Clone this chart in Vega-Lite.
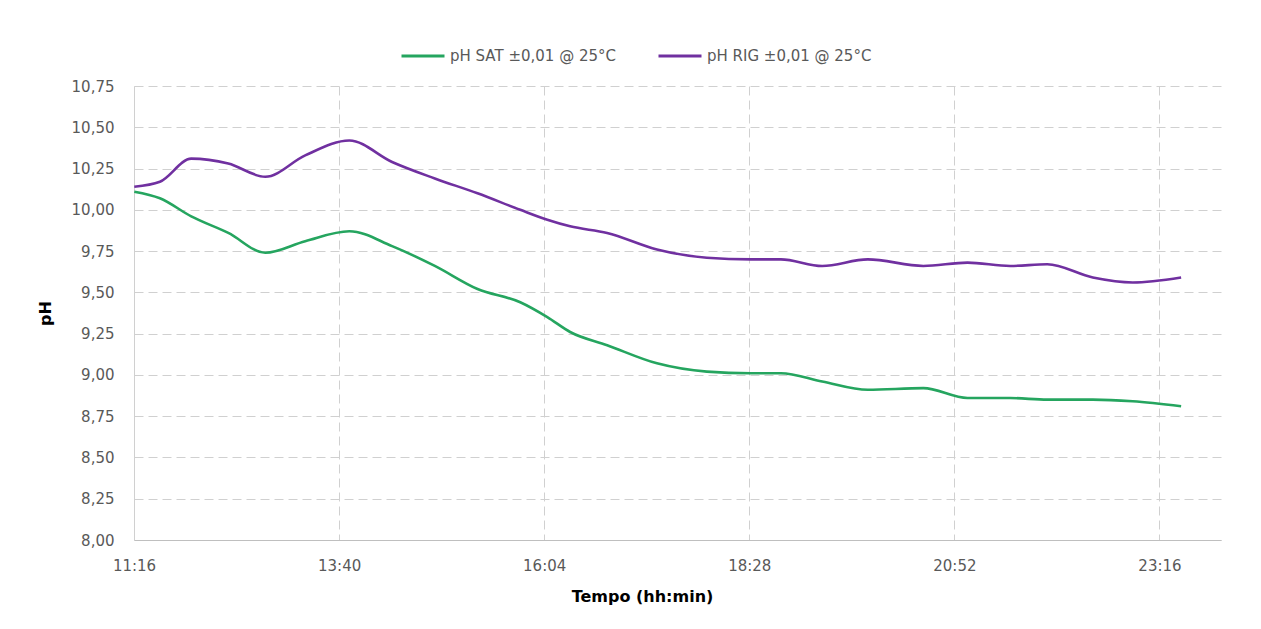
{
  "$schema": "https://vega.github.io/schema/vega-lite/v6.json",
  "width": 1087,
  "height": 454,
  "autosize": "none",
  "padding": {"left": 134, "top": 86, "right": 40, "bottom": 89},
  "background": "white",
  "config": {
    "view": {"stroke": null},
    "font": "DejaVu Sans"
  },
  "datasets": {
    "ph": [
      {"tempo": "2024-01-01T11:17", "serie": "pH SAT ±0,01 @ 25°C", "pH": 10.11},
      {"tempo": "2024-01-01T11:35", "serie": "pH SAT ±0,01 @ 25°C", "pH": 10.07},
      {"tempo": "2024-01-01T11:57", "serie": "pH SAT ±0,01 @ 25°C", "pH": 9.96},
      {"tempo": "2024-01-01T12:23", "serie": "pH SAT ±0,01 @ 25°C", "pH": 9.86},
      {"tempo": "2024-01-01T12:49", "serie": "pH SAT ±0,01 @ 25°C", "pH": 9.74},
      {"tempo": "2024-01-01T13:17", "serie": "pH SAT ±0,01 @ 25°C", "pH": 9.81},
      {"tempo": "2024-01-01T13:48", "serie": "pH SAT ±0,01 @ 25°C", "pH": 9.87},
      {"tempo": "2024-01-01T14:18", "serie": "pH SAT ±0,01 @ 25°C", "pH": 9.78},
      {"tempo": "2024-01-01T14:48", "serie": "pH SAT ±0,01 @ 25°C", "pH": 9.66},
      {"tempo": "2024-01-01T15:18", "serie": "pH SAT ±0,01 @ 25°C", "pH": 9.52},
      {"tempo": "2024-01-01T15:48", "serie": "pH SAT ±0,01 @ 25°C", "pH": 9.44},
      {"tempo": "2024-01-01T16:07", "serie": "pH SAT ±0,01 @ 25°C", "pH": 9.35},
      {"tempo": "2024-01-01T16:23", "serie": "pH SAT ±0,01 @ 25°C", "pH": 9.26},
      {"tempo": "2024-01-01T16:49", "serie": "pH SAT ±0,01 @ 25°C", "pH": 9.18},
      {"tempo": "2024-01-01T17:24", "serie": "pH SAT ±0,01 @ 25°C", "pH": 9.07},
      {"tempo": "2024-01-01T17:59", "serie": "pH SAT ±0,01 @ 25°C", "pH": 9.02},
      {"tempo": "2024-01-01T18:30", "serie": "pH SAT ±0,01 @ 25°C", "pH": 9.01},
      {"tempo": "2024-01-01T18:51", "serie": "pH SAT ±0,01 @ 25°C", "pH": 9.01},
      {"tempo": "2024-01-01T19:20", "serie": "pH SAT ±0,01 @ 25°C", "pH": 8.96},
      {"tempo": "2024-01-01T19:52", "serie": "pH SAT ±0,01 @ 25°C", "pH": 8.91},
      {"tempo": "2024-01-01T20:31", "serie": "pH SAT ±0,01 @ 25°C", "pH": 8.92},
      {"tempo": "2024-01-01T21:02", "serie": "pH SAT ±0,01 @ 25°C", "pH": 8.86},
      {"tempo": "2024-01-01T21:32", "serie": "pH SAT ±0,01 @ 25°C", "pH": 8.86},
      {"tempo": "2024-01-01T21:58", "serie": "pH SAT ±0,01 @ 25°C", "pH": 8.85},
      {"tempo": "2024-01-01T22:30", "serie": "pH SAT ±0,01 @ 25°C", "pH": 8.85},
      {"tempo": "2024-01-01T22:58", "serie": "pH SAT ±0,01 @ 25°C", "pH": 8.84},
      {"tempo": "2024-01-01T23:32", "serie": "pH SAT ±0,01 @ 25°C", "pH": 8.81},
      {"tempo": "2024-01-01T11:17", "serie": "pH RIG ±0,01 @ 25°C", "pH": 10.14},
      {"tempo": "2024-01-01T11:35", "serie": "pH RIG ±0,01 @ 25°C", "pH": 10.17},
      {"tempo": "2024-01-01T11:57", "serie": "pH RIG ±0,01 @ 25°C", "pH": 10.31},
      {"tempo": "2024-01-01T12:23", "serie": "pH RIG ±0,01 @ 25°C", "pH": 10.28},
      {"tempo": "2024-01-01T12:49", "serie": "pH RIG ±0,01 @ 25°C", "pH": 10.20},
      {"tempo": "2024-01-01T13:17", "serie": "pH RIG ±0,01 @ 25°C", "pH": 10.33},
      {"tempo": "2024-01-01T13:48", "serie": "pH RIG ±0,01 @ 25°C", "pH": 10.42},
      {"tempo": "2024-01-01T14:18", "serie": "pH RIG ±0,01 @ 25°C", "pH": 10.29},
      {"tempo": "2024-01-01T14:48", "serie": "pH RIG ±0,01 @ 25°C", "pH": 10.19},
      {"tempo": "2024-01-01T15:18", "serie": "pH RIG ±0,01 @ 25°C", "pH": 10.10},
      {"tempo": "2024-01-01T15:48", "serie": "pH RIG ±0,01 @ 25°C", "pH": 10.00},
      {"tempo": "2024-01-01T16:07", "serie": "pH RIG ±0,01 @ 25°C", "pH": 9.94},
      {"tempo": "2024-01-01T16:23", "serie": "pH RIG ±0,01 @ 25°C", "pH": 9.90},
      {"tempo": "2024-01-01T16:49", "serie": "pH RIG ±0,01 @ 25°C", "pH": 9.86},
      {"tempo": "2024-01-01T17:24", "serie": "pH RIG ±0,01 @ 25°C", "pH": 9.76},
      {"tempo": "2024-01-01T17:59", "serie": "pH RIG ±0,01 @ 25°C", "pH": 9.71},
      {"tempo": "2024-01-01T18:30", "serie": "pH RIG ±0,01 @ 25°C", "pH": 9.70},
      {"tempo": "2024-01-01T18:51", "serie": "pH RIG ±0,01 @ 25°C", "pH": 9.70},
      {"tempo": "2024-01-01T19:20", "serie": "pH RIG ±0,01 @ 25°C", "pH": 9.66},
      {"tempo": "2024-01-01T19:52", "serie": "pH RIG ±0,01 @ 25°C", "pH": 9.70},
      {"tempo": "2024-01-01T20:31", "serie": "pH RIG ±0,01 @ 25°C", "pH": 9.66},
      {"tempo": "2024-01-01T21:02", "serie": "pH RIG ±0,01 @ 25°C", "pH": 9.68},
      {"tempo": "2024-01-01T21:32", "serie": "pH RIG ±0,01 @ 25°C", "pH": 9.66},
      {"tempo": "2024-01-01T21:58", "serie": "pH RIG ±0,01 @ 25°C", "pH": 9.67},
      {"tempo": "2024-01-01T22:30", "serie": "pH RIG ±0,01 @ 25°C", "pH": 9.59},
      {"tempo": "2024-01-01T22:58", "serie": "pH RIG ±0,01 @ 25°C", "pH": 9.56},
      {"tempo": "2024-01-01T23:32", "serie": "pH RIG ±0,01 @ 25°C", "pH": 9.59}
    ]
  },
  "data": {"name": "ph"},
  "mark": {"type": "line", "interpolate": "monotone", "strokeWidth": 2.6},
  "encoding": {
    "x": {
      "field": "tempo",
      "type": "temporal",
      "scale": {
        "domain": [
          {"year": 2024, "month": 1, "date": 1, "hours": 11, "minutes": 16, "seconds": 48},
          {"year": 2024, "month": 1, "date": 2, "hours": 0, "minutes": 0, "seconds": 0}
        ]
      },
      "axis": {
        "title": "Tempo (hh:min)",
        "titleFont": "DejaVu Sans",
        "titleFontSize": 16,
        "titleFontWeight": "bold",
        "titleColor": "#000000",
        "titleX": 508,
        "titleY": 48,
        "titleAlign": "center",
        "titleBaseline": "top",
        "values": [
          {"year": 2024, "month": 1, "date": 1, "hours": 11, "minutes": 16, "seconds": 48},
          {"year": 2024, "month": 1, "date": 1, "hours": 13, "minutes": 40, "seconds": 48},
          {"year": 2024, "month": 1, "date": 1, "hours": 16, "minutes": 4, "seconds": 48},
          {"year": 2024, "month": 1, "date": 1, "hours": 18, "minutes": 28, "seconds": 48},
          {"year": 2024, "month": 1, "date": 1, "hours": 20, "minutes": 52, "seconds": 48},
          {"year": 2024, "month": 1, "date": 1, "hours": 23, "minutes": 16, "seconds": 48}
        ],
        "format": "%H:%M",
        "labelFontSize": 15,
        "labelColor": "#595959",
        "labelPadding": 18,
        "labelFlush": false,
        "labelOverlap": false,
        "ticks": false,
        "domain": true,
        "domainColor": "#bfbfbf",
        "domainWidth": 1,
        "grid": true,
        "gridColor": "#d0d0d0",
        "gridDash": [9, 5],
        "gridWidth": 1
      }
    },
    "y": {
      "field": "pH",
      "type": "quantitative",
      "scale": {"domain": [8, 10.75], "nice": false, "zero": false},
      "axis": {
        "title": "pH",
        "titleFont": "DejaVu Sans",
        "titleFontSize": 16,
        "titleFontWeight": "bold",
        "titleColor": "#000000",
        "titleX": -89,
        "titleY": 227,
        "titleAngle": 270,
        "titleAlign": "center",
        "titleBaseline": "middle",
        "values": [8, 8.25, 8.5, 8.75, 9, 9.25, 9.5, 9.75, 10, 10.25, 10.5, 10.75],
        "labelExpr": "replace(format(datum.value, '.2f'), '.', ',')",
        "labelFontSize": 15,
        "labelColor": "#595959",
        "labelPadding": 20,
        "ticks": false,
        "domain": true,
        "domainColor": "#d0d0d0",
        "domainWidth": 1,
        "grid": true,
        "gridColor": "#d0d0d0",
        "gridDash": [9, 5],
        "gridWidth": 1
      }
    },
    "color": {
      "field": "serie",
      "type": "nominal",
      "scale": {
        "domain": ["pH SAT ±0,01 @ 25°C", "pH RIG ±0,01 @ 25°C"],
        "range": ["#25a55f", "#7030a0"]
      },
      "legend": {
        "title": null,
        "orient": "none",
        "legendX": 266,
        "legendY": -53,
        "direction": "horizontal",
        "symbolType": "stroke",
        "symbolSize": 1849,
        "symbolStrokeWidth": 3,
        "labelFontSize": 15,
        "labelLimit": 400,
        "labelColor": "#595959",
        "labelOffset": 4,
        "columnPadding": 36
      }
    }
  }
}
